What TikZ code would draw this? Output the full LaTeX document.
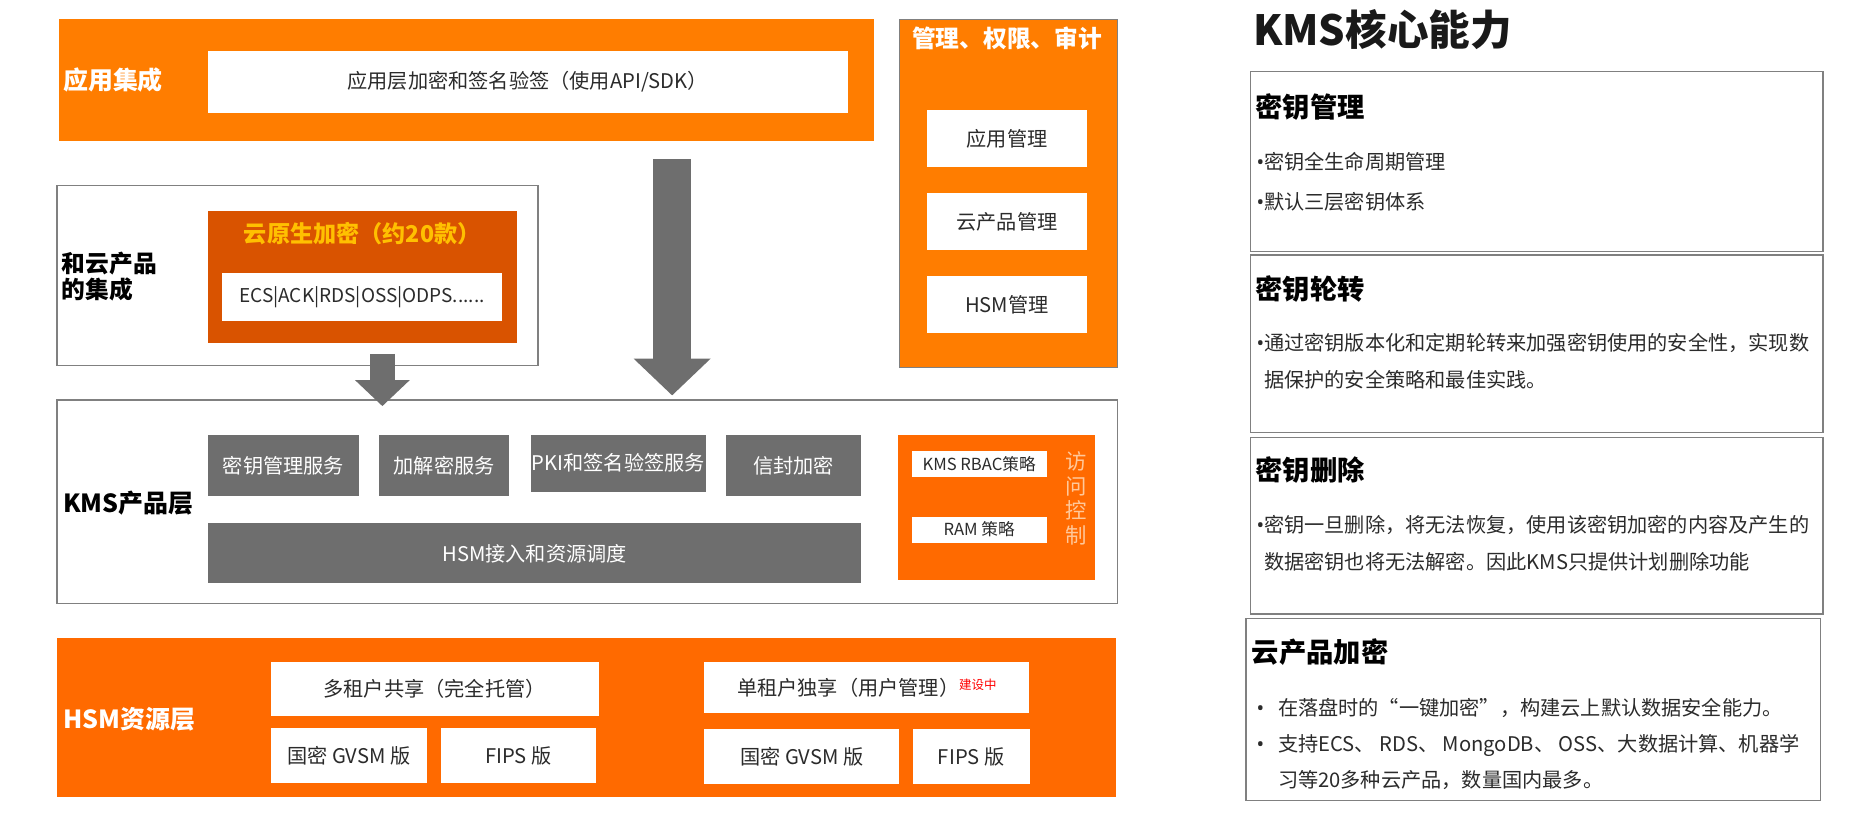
\documentclass[tikz,border=0pt]{standalone}
\usepackage{fontspec}
\setmainfont{Noto Sans CJK SC}
\newfontfamily\bulletfont{Noto Sans}
\usetikzlibrary{positioning,arrows.meta}

\definecolor{appOrange}{HTML}{FF7D00}
\definecolor{hsmOrange}{HTML}{FF6A00}
\definecolor{nativeOrange}{HTML}{D95300}
\definecolor{titleGold}{HTML}{FFC000}
\definecolor{svcGray}{HTML}{6E6E6E}
\definecolor{frameGray}{HTML}{808080}
\definecolor{txtGray}{HTML}{2B2B2B}
\definecolor{peach}{HTML}{FFC89A}

\newcommand{\kbul}{{\bulletfont •}}

\begin{document}
\begin{tikzpicture}[
  x=1pt, y=-1pt, % 按像素坐标, y 向下
  node distance=70pt,
  on grid,
  align=center,
  inner sep=0pt,
  whitebox/.style={fill=white, text=txtGray, font=\fontsize{17}{20}\selectfont},
  svcbox/.style={fill=svcGray, text=white, font=\fontsize{17}{20}\selectfont},
  framebox/.style={draw=frameGray, line width=1.2pt, fill=white},
  layerlabel/.style={anchor=west, align=left, font=\bfseries\fontsize{21}{23}\selectfont},
  cardtitle/.style={anchor=west, font=\bfseries\fontsize{23}{26}\selectfont},
  cardtext/.style={anchor=west, align=left, text=txtGray},
  blockarrow/.style n args={3}{draw=svcGray, line width=#1,
    -{Triangle[width=#2, length=#3]}}
]
\useasboundingbox (0,0) rectangle (1568,691);

% 应用集成
\node (appbar) [fill=appOrange, minimum width=686, minimum height=103] at (393,67.5) {};
\node (applabel) [layerlabel, text=white] at (53,67.5) {应用集成};
\node (appapi) [whitebox, minimum width=539, minimum height=52] at (444.5,69)
  {应用层加密和签名验签（使用API/SDK）};

% 管理、权限、审计
\node (mgmt) [fill=appOrange, draw=frameGray, line width=0.6pt, minimum width=184, minimum height=293] at (849,162.5) {};
\node (mgmtlabel) [text=white, font=\bfseries\fontsize{20}{22}\selectfont] at (848,32) {管理、权限、审计};
\node (appmgmt) [whitebox, minimum width=135, minimum height=48] at (848,116.5) {应用管理};
\node (cloudmgmt) [whitebox, minimum width=135, minimum height=48, below=of appmgmt] {云产品管理};
\node (hsmmgmt) [whitebox, minimum width=135, minimum height=48, below=of cloudmgmt] {HSM管理};

% 和云产品的集成
\node (cloudint) [framebox, minimum width=405, minimum height=152] at (250.5,232) {};
\node (cloudlabel) [layerlabel, font=\bfseries\fontsize{20}{22.5}\selectfont] at (52,233) {和云产品\\的集成};
\node (native) [fill=nativeOrange, minimum width=259.6, minimum height=111.6] at (305.2,233.2) {};
\node (nativetitle) [text=titleGold, font=\bfseries\fontsize{19.5}{22}\selectfont] at (305,196.5) {云原生加密（约20款）};
\node (ecs) [whitebox, font=\fontsize{16}{18}\selectfont, minimum width=236.4, minimum height=39.8] at (304.8,250.1)
  {ECS|ACK|RDS|OSS|ODPS......};

% KMS产品层
\node (kms) [framebox, minimum width=893, minimum height=171] at (494.5,422.5) {};
\node (kmslabel) [layerlabel] at (53,424) {KMS产品层};
\node (keysvc) [svcbox, minimum width=126.6, minimum height=51.4] at (238.7,392) {密钥管理服务};
\node (cryptsvc) [svcbox, minimum width=110, minimum height=51.4] at (374,392) {加解密服务};
\node (pkisvc) [svcbox, minimum width=147.5, minimum height=48] at (520.7,390) {PKI和签名验签服务};
\node (envsvc) [svcbox, minimum width=113.6, minimum height=51.4] at (668.2,392) {信封加密};
\node (hsmsched) [svcbox, minimum width=549.6, minimum height=50.5] at (450.2,466) {HSM接入和资源调度};

% 访问控制
\node (access) [fill=hsmOrange, minimum width=165.5, minimum height=122] at (839.3,427.4) {};
\node (rbac) [whitebox, font=\fontsize{14}{16}\selectfont, minimum width=113.7, minimum height=22.5] at (824.5,390.8) {KMS RBAC策略};
\node (rampol) [whitebox, font=\fontsize{14}{16}\selectfont, minimum width=113.7, minimum height=22] at (824.5,446) {RAM 策略};
\node (accesslabel) [text=peach, font=\fontsize{18}{20.6}\selectfont] at (906,419.6) {访\\问\\控\\制};

% HSM资源层
\node (hsm) [fill=hsmOrange, minimum width=892, minimum height=134] at (494,604) {};
\node (hsmlabel) [layerlabel, text=white] at (53,606) {HSM资源层};
\node (multi) [whitebox, minimum width=276, minimum height=45.8] at (366,580.1) {多租户共享（完全托管）};
\node (gmshared) [whitebox, minimum width=131.6, minimum height=45.7] at (293.8,636.2) {国密 GVSM 版};
\node (fipsshared) [whitebox, minimum width=130.7, minimum height=45.7] at (436.4,636.2) {FIPS 版};
\node (single) [whitebox, minimum width=273.7, minimum height=43.5] at (730,579)
  {单租户独享（用户管理）\raisebox{5pt}{\color{red}\fontsize{10.5}{11}\selectfont 建设中}};
\node (gmsingle) [whitebox, minimum width=164.2, minimum height=46.3] at (675.3,637) {国密 GVSM 版};
\node (fipssingle) [whitebox, minimum width=98.3, minimum height=46.3] at (817.8,637) {FIPS 版};

% 箭头
\coordinate (bigtop) at (566,134);
\coordinate (bigtip) at (566,333);
\coordinate (smalltop) at (322,298);
\coordinate (smalltip) at (322,342);
\draw[blockarrow={32pt}{63pt}{31pt}] (bigtop) -- (bigtip);
\draw[blockarrow={21.5pt}{45pt}{22pt}] (smalltop) -- (smalltip);

% KMS核心能力
\node (coretitle) [anchor=west, font=\bfseries\fontsize{35}{38}\selectfont, text=black!90] at (1055,25) {KMS核心能力};

\node (card1) [framebox, minimum width=482, minimum height=152] at (1294,136) {};
\node (card1title) [cardtitle] at (1057,90) {密钥管理};
\node (card1text) [cardtext, font=\fontsize{17}{34}\selectfont] at (1058,153)
  {\kbul 密钥全生命周期管理\\\kbul 默认三层密钥体系};

\node (card2) [framebox, minimum width=482, minimum height=149.6] at (1294,289.5) {};
\node (card2title) [cardtitle] at (1057,243) {密钥轮转};
\node (card2text) [cardtext, font=\fontsize{17}{31}\selectfont] at (1058,304.5)
  {\kbul 通过密钥版本化和定期轮转来加强密钥使用的安全性，实现数\\\phantom{\kbul}据保护的安全策略和最佳实践。};

\node (card3) [framebox, minimum width=482, minimum height=148.7] at (1294,442.7) {};
\node (card3title) [cardtitle] at (1057,396) {密钥删除};
\node (card3text) [cardtext, font=\fontsize{17}{31}\selectfont] at (1058,457.5)
  {\kbul 密钥一旦删除，将无法恢复，使用该密钥加密的内容及产生的\\\phantom{\kbul}数据密钥也将无法解密。因此KMS只提供计划删除功能};

\node (card4) [framebox, minimum width=483.6, minimum height=153.5] at (1291.2,597.5) {};
\node (card4title) [cardtitle] at (1054,549) {云产品加密};
\node (card4text) [cardtext, font=\fontsize{17}{30}\selectfont] at (1058,626.6)
  {\makebox[18pt][l]{\kbul}在落盘时的“一键加密”，构建云上默认数据安全能力。\\
   \makebox[18pt][l]{\kbul}支持ECS、 RDS、 MongoDB、 OSS、大数据计算、机器学\\
   \hspace*{18pt}习等20多种云产品，数量国内最多。};
\end{tikzpicture}
\end{document}
